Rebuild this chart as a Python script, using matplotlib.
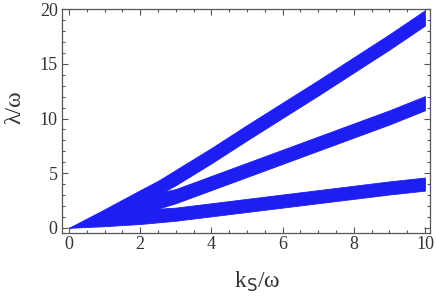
import matplotlib
matplotlib.use("Agg")
import matplotlib.pyplot as plt
from matplotlib.ticker import MultipleLocator

# band edges
k = [0, 1, 2, 2.5, 3, 4, 5, 6, 7, 8, 9, 10]
upper_hi = [0, 1.7, 3.45, 4.3, 5.3, 7.3, 9.4, 11.45, 13.5, 15.6, 17.7, 19.9]
upper_lo = [0, 1.0, 2.0, 3.0, 3.9, 5.9, 8.0, 10.05, 12.1, 14.2, 16.3, 18.5]
middle_hi = [0, 1.4, 2.8, 3.2, 3.55, 4.75, 5.95, 7.15, 8.35, 9.55, 10.75, 12.05]
middle_lo = [0, 0.6, 1.3, 1.75, 2.25, 3.45, 4.65, 5.85, 7.05, 8.25, 9.45, 10.75]
lower_hi = [0, 0.9, 1.5, 1.75, 1.85, 2.25, 2.65, 3.05, 3.45, 3.85, 4.25, 4.6]
lower_lo = [0, 0.15, 0.35, 0.5, 0.65, 1.05, 1.45, 1.85, 2.25, 2.65, 3.05, 3.4]

blue = '#1e1ef2'
frame = '#555555'
plt.rcParams['font.family'] = ['Liberation Serif', 'DejaVu Serif']

fig = plt.figure(figsize=(4.36, 3.06), dpi=100)
ax = fig.add_axes([0.142, 0.239, 0.844, 0.732])

for hi, lo in [(upper_hi, upper_lo), (middle_hi, middle_lo), (lower_hi, lower_lo)]:
    ax.fill_between(k, lo, hi, color=blue, linewidth=0.6, edgecolor=blue)

ax.set_xlim(-0.2, 10.14)
ax.set_ylim(-0.46, 20.03)
ax.xaxis.set_major_locator(MultipleLocator(2))
ax.xaxis.set_minor_locator(MultipleLocator(0.5))
ax.yaxis.set_major_locator(MultipleLocator(5))
ax.yaxis.set_minor_locator(MultipleLocator(1))
ax.tick_params(which='both', direction='in', top=True, right=True,
               color=frame, labelsize=13, labelcolor='#333333', width=0.8, pad=3)
ax.tick_params(axis='x', pad=2)
ax.tick_params(which='major', length=4)
ax.tick_params(which='minor', length=2)
for s in ax.spines.values():
    s.set_color(frame)
    s.set_linewidth(0.9)

ax.set_xlabel(r'k$_{\mathrm{S}}$/ω', fontsize=17, color='#333333')
ax.set_ylabel('λ/ω', fontsize=17, color='#333333')
ax.xaxis.set_label_coords(0.53, -0.165)
ax.yaxis.set_label_coords(-0.10, 0.5625)

fig.savefig('out.png', dpi=100)
